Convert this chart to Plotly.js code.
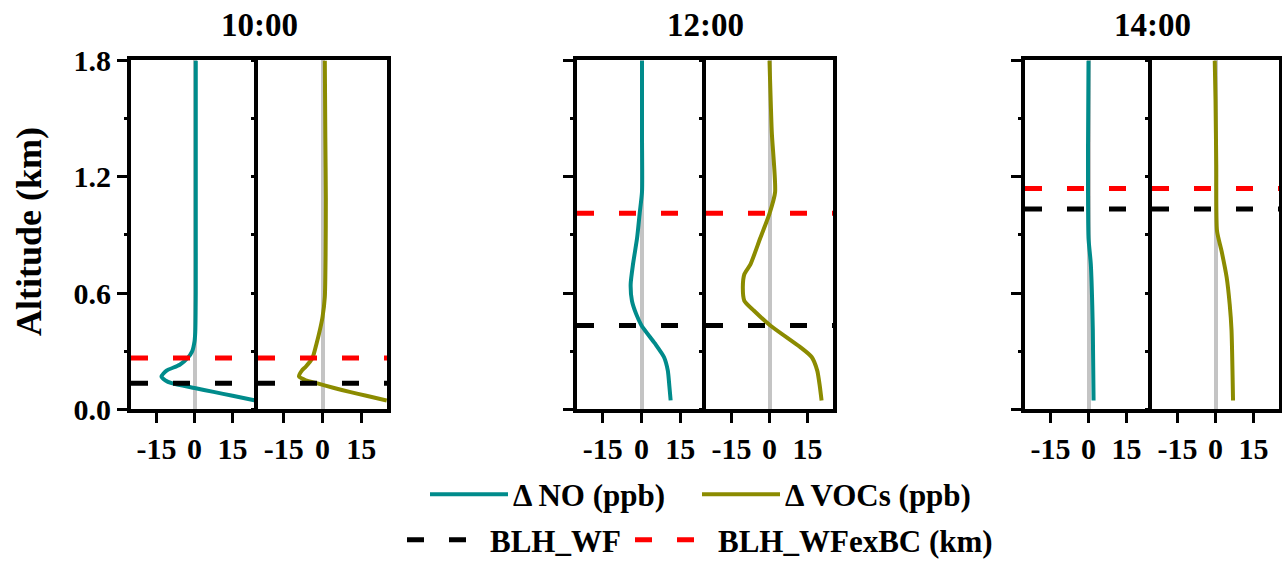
<!DOCTYPE html>
<html>
<head>
<meta charset="utf-8">
<script src="https://cdn.plot.ly/plotly-3.0.1.min.js"></script>
<style>html,body{margin:0;padding:0;background:#fff}#chart{width:1282px;height:567px}</style>
</head>
<body>
<div id="chart"></div>
<script>
// ---- data ----
const times = ["10:00", "12:00", "14:00"];
const yTitle = "Altitude (km)";
const tickLabelsX = ["-15", "0", "15"];
const tickValsX = [-15, 0, 15];
const tickValsY = [0, 0.6, 1.2, 1.8];

// 10:00
const alt_NO_10  = [0.046, 0.07, 0.09, 0.11, 0.135, 0.15, 0.17, 0.2, 0.23, 0.265, 0.3, 0.35, 0.4, 0.6, 1.0, 1.4, 1.8];
const dNO_10     = [24, 15, 7.5, 0, -9, -11.5, -13, -11, -5.8, -2.7, -0.9, 0, 0.3, 0.5, 0.5, 0.5, 0.5];
const alt_VOC_10 = [0.046, 0.07, 0.09, 0.11, 0.135, 0.15, 0.17, 0.2, 0.22, 0.265, 0.34, 0.41, 0.475, 0.58, 0.8, 1.09, 1.4, 1.8];
const dVOC_10    = [24.9, 17, 10.5, 4.5, -2.3, -6.5, -9.1, -8, -6.5, -3.9, -2.3, -1, 0, 0.9, 1.2, 1.3, 1.1, 0.9];
// 12:00
const alt_NO_12  = [0.046, 0.12, 0.2, 0.27, 0.34, 0.433, 0.49, 0.56, 0.645, 0.748, 0.885, 1.012, 1.123, 1.4, 1.8];
const dNO_12     = [11.3, 10.8, 10.2, 8.7, 5.2, 0, -2, -3.7, -4.2, -3.3, -1.7, -0.7, 0.2, 0.2, 0.2];
const alt_VOC_12 = [0.046, 0.12, 0.2, 0.27, 0.322, 0.433, 0.51, 0.56, 0.63, 0.697, 0.748, 0.885, 1.01, 1.12, 1.43, 1.8];
const dVOC_12    = [20.5, 19.8, 18.8, 16.6, 12, 0.3, -6.2, -9.9, -10.5, -9.9, -7.5, -3.6, 0, 2.2, 0.9, 0];
// 14:00
const alt_NO_14  = [0.046, 0.41, 0.75, 0.885, 1.33, 1.8];
const dNO_14     = [2, 1.7, 0.9, 0, -0.2, 0];
const alt_VOC_14 = [0.046, 0.41, 0.54, 0.68, 0.816, 0.92, 1.26, 1.6, 1.8];
const dVOC_14    = [6.9, 6.3, 5.6, 4.4, 2.4, 0.6, 0.3, 0, -0.3];

// boundary-layer heights (km)
const blhWF      = [0.135, 0.433, 1.034];
const blhWFexBC  = [0.265, 1.012, 1.14];
const xSpan = [-25, 25];

// ---- styling ----
const W = 1282, H = 567;
const teal = "rgb(0,139,139)", olive = "rgb(139,139,0)";
const panelsPx = [[131,258],[258,387],[577,706],[706,833],[1025,1152],[1152,1279]];
const yDom = [1 - 413/H, 1 - 61/H];
const FONT = "Liberation Serif, Times New Roman, serif";
const DASH = "17px,25px";

const noAlt = [alt_NO_10, alt_NO_12, alt_NO_14];
const noVal = [dNO_10, dNO_12, dNO_14];
const vocAlt = [alt_VOC_10, alt_VOC_12, alt_VOC_14];
const vocVal = [dVOC_10, dVOC_12, dVOC_14];

const traces = [];
const layout = {
  width: W, height: H,
  margin: {l:0, r:0, t:0, b:0},
  paper_bgcolor: "#fff", plot_bgcolor: "#fff",
  font: {family: FONT, size: 30, color: "#000", weight: "bold"},
  showlegend: true,
  annotations: [{
    text: yTitle, xref: "paper", yref: "paper", x: 29/W, y: 1 - 234/H,
    xanchor: "center", yanchor: "middle", textangle: -90, showarrow: false,
    font: {family: FONT, size: 36, weight: "bold"}
  }],
  legend: {orientation: "h", x: 425/W, y: 1 - 499/H, xanchor: "left", yanchor: "middle",
           font: {family: FONT, size: 31, weight: "bold"}, itemwidth: 78,
           bgcolor: "rgba(0,0,0,0)"},
  legend2: {orientation: "h", x: 402/W, y: 1 - 545/H, xanchor: "left", yanchor: "middle",
           font: {family: FONT, size: 31, weight: "bold"}, itemwidth: 78,
           bgcolor: "rgba(0,0,0,0)"}
};

for (let p = 0; p < 6; p++) {
  const g = Math.floor(p/2);
  const isNO = (p % 2 === 0);
  const n = p + 1;
  const xa = n === 1 ? "x" : "x" + n;
  const ya = n === 1 ? "y" : "y" + n;
  const dom = [panelsPx[p][0]/W, panelsPx[p][1]/W];
  layout["xaxis" + (n === 1 ? "" : n)] = {
    domain: dom, range: xSpan, anchor: ya,
    tickvals: tickValsX, ticktext: tickLabelsX,
    ticks: "outside", ticklen: 10, tickwidth: 3, tickcolor: "#000",
    showline: true, linewidth: 4, linecolor: "#000", mirror: true,
    showgrid: false, zeroline: true, zerolinecolor: "#c4c4c4", zerolinewidth: 4,
    tickfont: {family: FONT, size: 30, weight: "bold"},
    fixedrange: true
  };
  layout["yaxis" + (n === 1 ? "" : n)] = {
    domain: yDom, range: [0, 1.8], anchor: xa,
    showline: true, linewidth: 4, linecolor: "#000", mirror: !isNO,
    showgrid: false, zeroline: false,
    tickvals: tickValsY, tickformat: ".1f",
    ticks: isNO ? "outside" : "", ticklen: 10, tickwidth: 3, tickcolor: "#000",
    showticklabels: p === 0,
    tickfont: {family: FONT, size: 30, weight: "bold"},
    minor: {dtick: 0.3, tick0: 0, ticks: "outside", ticklen: 3, tickwidth: 3, tickcolor: "#000", showgrid: false},
    fixedrange: true
  };

  traces.push({
    type: "scatter", mode: "lines",
    x: isNO ? noVal[g] : vocVal[g], y: isNO ? noAlt[g] : vocAlt[g],
    xaxis: xa, yaxis: ya,
    line: {color: isNO ? teal : olive, width: 4, shape: "spline", smoothing: 0.6},
    name: isNO ? "Δ NO (ppb)" : "Δ VOCs (ppb)",
    legend: "legend", showlegend: p < 2, legendwidth: p === 0 ? 179 : 200,
    hoverinfo: "skip"
  });
  traces.push({
    type: "scatter", mode: "lines",
    x: xSpan, y: [blhWF[g], blhWF[g]], xaxis: xa, yaxis: ya,
    line: {color: "#000", width: 5, dash: DASH},
    name: "BLH_WF", legend: "legend2", showlegend: p === 0, legendwidth: 135,
    hoverinfo: "skip"
  });
  traces.push({
    type: "scatter", mode: "lines",
    x: xSpan, y: [blhWFexBC[g], blhWFexBC[g]], xaxis: xa, yaxis: ya,
    line: {color: "#ff0000", width: 5, dash: DASH},
    name: "BLH_WFexBC (km)", legend: "legend2", showlegend: p === 0, legendwidth: 300,
    hoverinfo: "skip"
  });

  if (isNO) {
    const cx = (panelsPx[p][0] + panelsPx[p+1][1]) / 2 / W;
    layout.annotations.push({
      text: times[g], xref: "paper", yref: "paper", x: cx, y: 1 - 25/H,
      xanchor: "center", yanchor: "middle", showarrow: false,
      font: {family: FONT, size: 33, weight: "bold"}
    });
  }
}

Plotly.newPlot("chart", traces, layout, {staticPlot: true, displayModeBar: false});
</script>
</body>
</html>
